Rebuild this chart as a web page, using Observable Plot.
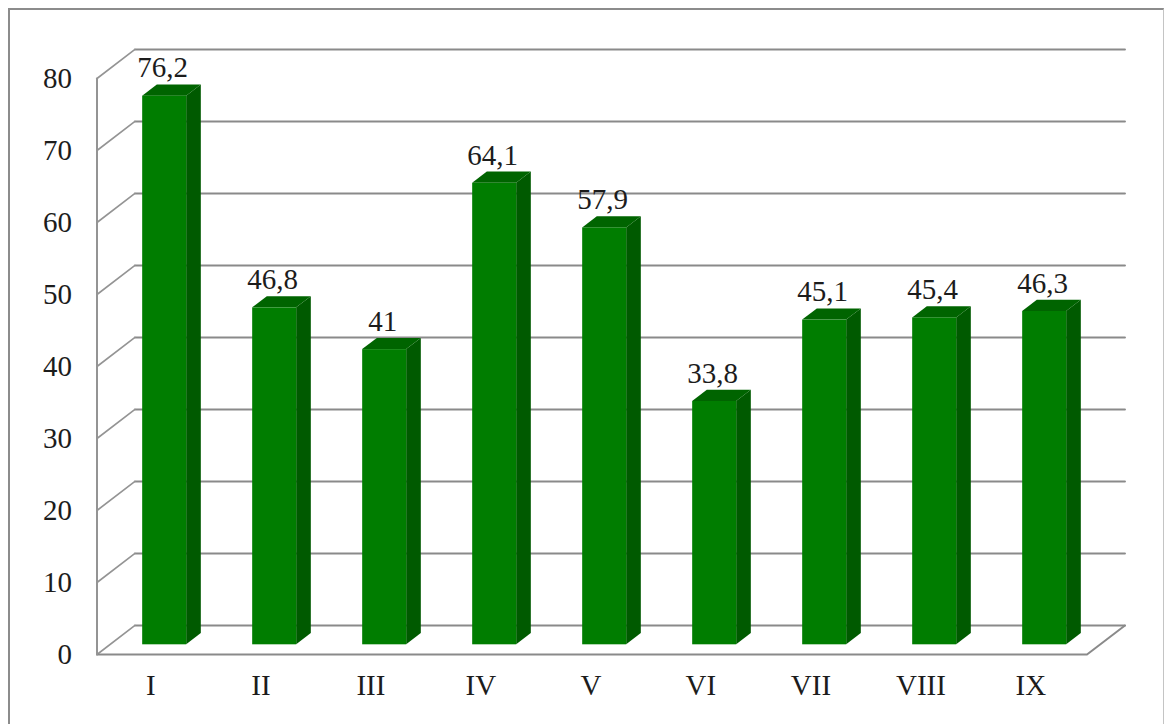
<!DOCTYPE html>
<html>
<head>
<meta charset="utf-8">
<style>
html,body{margin:0;padding:0;background:#fff;overflow:hidden;width:1176px;height:724px}
#frame{position:absolute;left:8px;top:8px;width:1156px;height:716px;border:solid #8c8c8c;border-width:2px 1px 0 2px;border-right-color:#c4c4c4;box-sizing:border-box}
#chart{position:absolute;left:0;top:0}
#chart svg{background:transparent}
</style>
<script src="https://cdn.jsdelivr.net/npm/d3@7"></script>
<script src="https://cdn.jsdelivr.net/npm/@observablehq/plot@0.6"></script>
</head>
<body>
<div id="frame"></div>
<div id="chart"></div>
<script>
const categories = ["I","II","III","IV","V","VI","VII","VIII","IX"];
const values = [76.2,46.8,41,64.1,57.9,33.8,45.1,45.4,46.3];
const yTicks = [0,10,20,30,40,50,60,70,80];

// oblique projection expressed in data units: depth d runs 0 (front) to 1 (back wall)
const depthX = 0.345, depthY = 4.03;
const px = (u, d) => u + depthX * d;
const py = (v, d) => v + depthY * d;
const barFront = 0.334, barBack = 0.72, barHalf = 0.2;
const depths = [barFront, barBack];

const bars = categories.map((name, i) => ({name, i, value: values[i]}));
const side = bars.flatMap(b => depths.map(d => ({name: b.name, x: px(b.i + 0.5 + barHalf, d), y1: py(0, d), y2: py(b.value, d)})));
const top_ = bars.flatMap(b => depths.map(d => ({name: b.name, y: py(b.value, d), x1: px(b.i + 0.5 - barHalf, d), x2: px(b.i + 0.5 + barHalf, d)})));
const gridBack = yTicks.flatMap(v => [0, categories.length].map(u => ({v, x: px(u, 1), y: py(v, 1)})));
const gridWall = yTicks.flatMap(v => [0, 1].map(d => ({v, x: px(0, d), y: py(v, d)})));
const floorEdge = [[0,0],[categories.length,0],[categories.length,1]].map(([u,d]) => ({x: px(u,d), y: py(0,d)}));
const leftEdge = [0,80].map(v => ({x: px(0,0), y: v}));

const gridColor = "#8a8a8a";
const chart = Plot.plot({
  width: 1176, height: 724,
  marginLeft: 96.5, marginRight: 89.5, marginTop: 78, marginBottom: 70,
  style: {fontFamily: "'Liberation Serif', serif", background: "transparent", color: "#1c1c1c"},
  x: {type: "linear", domain: [0, categories.length], axis: null},
  y: {type: "linear", domain: [0, 80], axis: null},
  marks: [
    Plot.line(gridBack, {x: "x", y: "y", z: "v", stroke: gridColor, strokeWidth: 2}),
    Plot.line(gridWall, {x: "x", y: "y", z: "v", stroke: "#949494", strokeWidth: 1.6}),
    Plot.line(floorEdge, {x: "x", y: "y", stroke: gridColor, strokeWidth: 2}),
    Plot.line(leftEdge, {x: "x", y: "y", stroke: "#949494", strokeWidth: 2}),
    Plot.areaY(side, {x: "x", y1: "y1", y2: "y2", z: "name", fill: "#005a00"}),
    Plot.areaX(top_, {y: "y", x1: "x1", x2: "x2", z: "name", fill: "#006400"}),
    Plot.rect(bars, {
      x1: b => px(b.i + 0.5 - barHalf, barFront), x2: b => px(b.i + 0.5 + barHalf, barFront),
      y1: () => py(0, barFront), y2: b => py(b.value, barFront),
      fill: "#007d00"
    }),
    Plot.text(bars, {
      x: b => px(b.i + 0.5, barFront), y: b => py(b.value, barFront),
      text: b => String(b.value).replace(".", ","),
      dx: -2, dy: -28, fontSize: 29, fill: "#1c1c1c"
    }),
    Plot.axisY({ticks: yTicks, tickSize: 0, tickPadding: 25, fontSize: 29, label: null}),
    Plot.axisX({ticks: categories.map((c, i) => i + 0.49), tickFormat: t => categories[Math.floor(t)], tickSize: 0, tickPadding: 20, fontSize: 29, label: null})
  ]
});
document.getElementById("chart").appendChild(chart);
</script>
</body>
</html>
